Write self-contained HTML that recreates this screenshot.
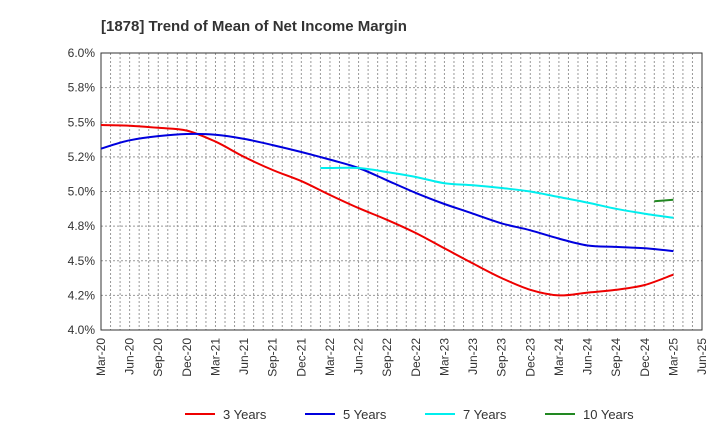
<!DOCTYPE html>
<html><head><meta charset="utf-8"><style>
body{margin:0;background:#fff;font-family:"Liberation Sans",sans-serif}
svg text{font-family:"Liberation Sans",sans-serif}
</style></head><body>
<svg width="720" height="440" viewBox="0 0 720 440">
<text x="101" y="31" font-size="15" font-weight="bold" fill="#333">[1878]  Trend of Mean of Net Income Margin</text>
<g id="grid"></g><g id="axes"></g><g id="series"></g><g id="legend"></g>
</svg>
<script>
const xLabels=["Mar-20","Jun-20","Sep-20","Dec-20","Mar-21","Jun-21","Sep-21","Dec-21","Mar-22","Jun-22","Sep-22","Dec-22","Mar-23","Jun-23","Sep-23","Dec-23","Mar-24","Jun-24","Sep-24","Dec-24","Mar-25","Jun-25"];
const yTicks=[4.0,4.25,4.5,4.75,5.0,5.25,5.5,5.75,6.0];
const yTickLabels=["4.0%","4.2%","4.5%","4.8%","5.0%","5.2%","5.5%","5.8%","6.0%"];
const qMonths=[0,3,6,9,12,15,18,21,24,27,30,33,36,39,42,45,48,51,54,57,60];
const y3=[5.48,5.475,5.46,5.44,5.36,5.25,5.155,5.075,4.975,4.88,4.795,4.70,4.59,4.48,4.375,4.29,4.25,4.27,4.29,4.325,4.40];
const y5=[5.31,5.37,5.40,5.415,5.41,5.38,5.335,5.285,5.23,5.17,5.08,4.99,4.91,4.84,4.77,4.72,4.66,4.61,4.60,4.59,4.57];
const m7=[23,24,27,30,33,36,39,42,45,48,51,54,57,60];
const y7=[5.17,5.17,5.17,5.14,5.105,5.06,5.045,5.025,5.0,4.96,4.92,4.875,4.84,4.81];
const m10=[58,60];
const y10=[4.93,4.94];
const L=101,R=702,T=53,B=330;
const xs=m=>L+m*(R-L)/63;
const ys=v=>B-(v-4)*(B-T)/2;
const NS="http://www.w3.org/2000/svg";
function mk(tag,attrs,parent){const e=document.createElementNS(NS,tag);for(const k in attrs)e.setAttribute(k,attrs[k]);parent.appendChild(e);return e;}
const grid=document.getElementById('grid'),axes=document.getElementById('axes'),ser=document.getElementById('series'),leg=document.getElementById('legend');
for(let m=1;m<63;m++){const l=mk('line',{x1:xs(m),x2:xs(m),y1:T,y2:B,stroke:'#999','stroke-dasharray':'2,2','stroke-width':1},grid);

}
yTicks.forEach((v,i)=>{const l=mk('line',{x1:L,x2:R,y1:ys(v),y2:ys(v),stroke:'#999','stroke-dasharray':'2,2','stroke-width':1},grid);


const t=mk('text',{x:L-6,y:ys(v)+4,'text-anchor':'end','font-size':12,fill:'#333'},axes);t.textContent=yTickLabels[i];

});
xLabels.forEach((s,i)=>{const x=xs(i*3);const t=mk('text',{x:0,y:0,'text-anchor':'end','font-size':12,fill:'#333',transform:`translate(${x+4},${B+8}) rotate(-90)`},axes);t.textContent=s;

});
const fr=mk('rect',{x:L,y:T,width:R-L,height:B-T,fill:'none',stroke:'#333','stroke-width':1},axes);


function path(ms,vs){const p=ms.map((m,i)=>[xs(m),ys(vs[i])]);let d='M'+p[0][0].toFixed(1)+','+p[0][1].toFixed(1);
for(let i=0;i<p.length-1;i++){const p0=p[i-1]||p[i],p1=p[i],p2=p[i+1],p3=p[i+2]||p2;
const c1=[p1[0]+(p2[0]-p0[0])/6,p1[1]+(p2[1]-p0[1])/6],c2=[p2[0]-(p3[0]-p1[0])/6,p2[1]-(p3[1]-p1[1])/6];
d+='C'+c1[0].toFixed(1)+','+c1[1].toFixed(1)+' '+c2[0].toFixed(1)+','+c2[1].toFixed(1)+' '+p2[0].toFixed(1)+','+p2[1].toFixed(1);}
return d;}
[[qMonths,y3,'#ee0000','series-3-years'],[qMonths,y5,'#0000dd','series-5-years'],[m7,y7,'#00eeee','series-7-years'],[m10,y10,'#228822','series-10-years']].forEach(s=>{
const p=mk('path',{d:path(s[0],s[1]),fill:'none',stroke:s[2],'stroke-width':2,'stroke-linejoin':'round'},ser);

});
[['3 Years','#ee0000',185],['5 Years','#0000dd',305],['7 Years','#00eeee',425],['10 Years','#228822',545]].forEach(e=>{
const g=mk('g',{},leg);


mk('line',{x1:e[2],x2:e[2]+30,y1:414,y2:414,stroke:e[1],'stroke-width':2},g);
const t=mk('text',{x:e[2]+38,y:419,'font-size':13,fill:'#333'},g);t.textContent=e[0];});
</script>
</body></html>
